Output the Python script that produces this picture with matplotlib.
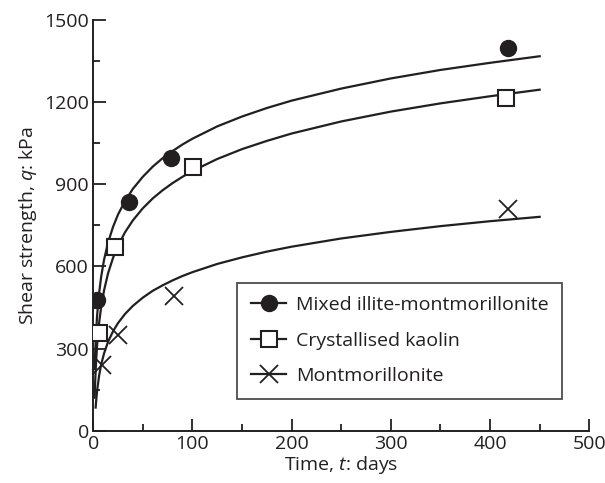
import numpy as np
import matplotlib
matplotlib.use("Agg")
import matplotlib.pyplot as plt
from matplotlib.lines import Line2D

plt.rcParams['font.family'] = ['Open Sans', 'DejaVu Sans']
plt.rcParams['mathtext.fontset'] = 'custom'
plt.rcParams['mathtext.rm'] = 'Open Sans'
plt.rcParams['mathtext.it'] = 'Open Sans:italic'

# measured points (days, kPa)
mixed_t = [4, 36, 78, 418]
mixed_q = [478, 836, 996, 1398]
kaolin_t = [6, 22, 101, 416]
kaolin_q = [358, 672, 964, 1215]
mont_t = [9, 25, 81, 418]
mont_q = [241, 350, 493, 810]

# fitted curves
curve_t = [1.5, 2, 3, 4, 6, 8, 11, 15, 20, 25, 32, 40, 50, 60, 70, 80, 90, 100,
           125, 150, 175, 200, 250, 300, 350, 400, 450]
mixed_fit = [226, 284, 365, 422, 503, 561, 625, 687, 744, 789, 838, 883, 927, 964,
             995, 1021, 1045, 1066, 1111, 1147, 1178, 1205, 1249, 1286, 1317, 1343, 1367]
kaolin_fit = [121, 178, 257, 314, 394, 451, 513, 575, 631, 675, 724, 768, 812, 848,
              878, 904, 927, 948, 992, 1028, 1058, 1085, 1129, 1165, 1195, 1221, 1245]
mont_t_fit = [2.5, 3, 4, 6, 8, 11, 15, 20, 25, 32, 40, 50, 60, 70, 80, 90, 100,
              125, 150, 175, 200, 250, 300, 350, 400, 450]
mont_fit = [85, 109, 148, 202, 241, 283, 325, 363, 393, 426, 456, 486, 511, 531,
            549, 565, 579, 609, 633, 654, 672, 702, 726, 747, 765, 781]

labels = ["Mixed illite-montmorillonite", "Crystallised kaolin", "Montmorillonite"]

ink = "#231f20"
fs = 14

fig = plt.figure(figsize=(6.05, 4.83), dpi=100)
ax = fig.add_axes([0.154, 0.108, 0.82, 0.851])

ax.plot(curve_t, mixed_fit, color=ink, lw=1.6)
ax.plot(curve_t, kaolin_fit, color=ink, lw=1.6)
ax.plot(mont_t_fit, mont_fit, color=ink, lw=1.6)

ax.plot(mixed_t, mixed_q, 'o', ms=11.5, color=ink, zorder=3)
ax.plot(kaolin_t, kaolin_q, 's', ms=11, mfc='white', mec=ink, mew=1.5, zorder=3)
ax.plot(mont_t, mont_q, 'x', ms=13, mec=ink, mew=1.3, zorder=3)

ax.set_xlim(0, 500)
ax.set_ylim(0, 1500)
ax.set_xticks(np.arange(0, 501, 100))
ax.set_xticks(np.arange(50, 500, 100), minor=True)
ax.set_yticks(np.arange(0, 1501, 300))
ax.set_yticks(np.arange(150, 1500, 300), minor=True)
ax.tick_params(which='major', direction='in', length=9, width=1.3, color=ink,
               labelsize=fs, labelcolor=ink, pad=3)
ax.tick_params(which='minor', direction='in', length=5, width=1.3, color=ink)

for s in ['top', 'right']:
    ax.spines[s].set_visible(False)
for s in ['left', 'bottom']:
    ax.spines[s].set_linewidth(1.4)
    ax.spines[s].set_color(ink)

ax.set_xlabel(r"Time, $t$: days", fontsize=fs, color=ink, labelpad=1)
ax.set_ylabel(r"Shear strength, $q$: kPa", fontsize=fs, color=ink, labelpad=4)

handles = [
    Line2D([], [], color=ink, lw=1.6, marker='o', ms=11.5),
    Line2D([], [], color=ink, lw=1.6, marker='s', ms=11, mfc='white', mec=ink, mew=1.5),
    Line2D([], [], color=ink, lw=1.6, marker='x', ms=13, mec=ink, mew=1.3),
]
leg = ax.legend(handles, labels, loc='lower right', bbox_to_anchor=(0.945, 0.078),
                fontsize=fs, frameon=True, fancybox=False, edgecolor=ink,
                handlelength=1.8, handletextpad=0.5, borderpad=0.7, labelspacing=0.9,
                borderaxespad=0)
leg.get_frame().set_linewidth(1.3)
for t in leg.get_texts():
    t.set_color(ink)

fig.savefig("out.png", dpi=100)
